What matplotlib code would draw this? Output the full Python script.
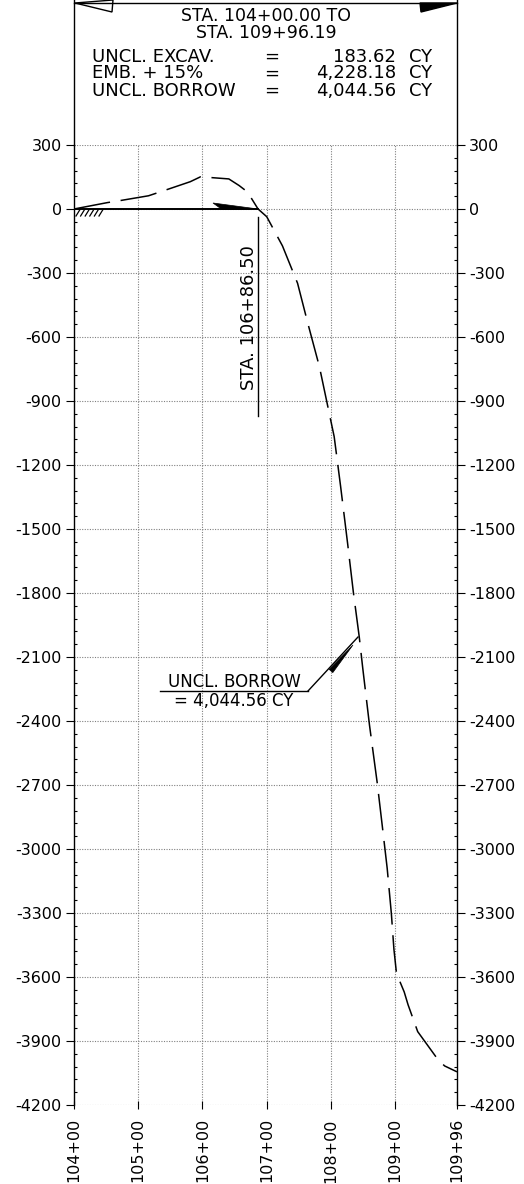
import matplotlib
matplotlib.use("Agg")
import matplotlib.pyplot as plt
from matplotlib.lines import Line2D
from matplotlib.patches import Polygon

plt.rcParams['font.family'] = ['DejaVu Sans']

# ---------------- data ----------------
stations = [104.00, 104.52, 104.67, 105.16, 105.34, 105.81, 105.97, 106.41, 106.57,
            106.70, 106.865, 107.00, 107.245, 107.48, 107.64, 107.82, 108.05, 108.15,
            108.26, 108.35, 108.44, 108.495, 108.60, 108.72, 108.80, 108.875, 108.94,
            108.98, 109.02, 109.14, 109.20, 109.35, 109.48, 109.67, 109.77, 109.9619]
mass_cy = [0, 30, 37, 62, 80, 128, 151, 141, 110,
           80, 0, -36, -173, -348, -536, -739, -1067, -1300,
           -1570, -1800, -2005, -2153, -2420, -2690, -2895, -3090, -3302,
           -3470, -3583, -3670, -3730, -3856, -3910, -3989, -4017, -4044.56]

x_ticks = [104.0, 105.0, 106.0, 107.0, 108.0, 109.0, 109.9619]
x_labels = ["104+00", "105+00", "106+00", "107+00", "108+00", "109+00", "109+96"]
y_ticks = list(range(-4200, 301, 300))
y_labels = [str(v) for v in y_ticks]

balance_sta = 106.865
balance_label = "STA. 106+86.50"
header_lines = ["STA. 104+00.00 TO", "STA. 109+96.19"]
table_names = ["UNCL. EXCAV.", "EMB. + 15%", "UNCL. BORROW"]
table_values = ["183.62", "4,228.18", "4,044.56"]
borrow_text = ["UNCL. BORROW", "= 4,044.56 CY"]

# ---------------- figure ----------------
W, H = 524, 1184
fig = plt.figure(figsize=(W / 100, H / 100), dpi=100)
fig.patch.set_facecolor('white')

L, R, T, B = 74, 457, 145, 1105
ax = fig.add_axes([L / W, 1 - B / H, (R - L) / W, (B - T) / H])
ax.set_xlim(104.0, 109.9619)
ax.set_ylim(-4200, 300)


def P(xp, yp):
    """pixel position (reference image) -> data coords, for annotations"""
    return (104.0 + (xp - L) / (R - L) * (109.9619 - 104.0),
            300 - (yp - T) / (B - T) * 4500)


def F(xp, yp):
    return xp / W, 1 - yp / H


# grid
grid_kw = dict(color='#808080', lw=0.8, linestyle=(0, (1, 1.3)), zorder=0)
for yv in y_ticks:
    ax.axhline(yv, **grid_kw)
for xv in x_ticks[1:-1]:
    ax.axvline(xv, **grid_kw)

# spines
ax.spines['top'].set_visible(False)
ax.spines['bottom'].set_visible(False)
for s in ('left', 'right'):
    ax.spines[s].set_color('black')
    ax.spines[s].set_linewidth(1.0)

# ticks
ax.set_yticks(y_ticks)
ax.set_yticklabels(y_labels)
ax.set_yticks(list(range(-4200, 301, 60)), minor=True)
ax.tick_params(axis='y', which='major', direction='out', length=5.8, width=0.8,
               left=True, right=True, labelleft=True, labelright=True,
               labelsize=11.5, pad=3)
ax.tick_params(axis='y', which='minor', direction='in', length=2.5, width=0.8,
               left=True, right=True)
ax.set_xticks(x_ticks)
ax.set_xticklabels(x_labels, rotation=90, va='top')
ax.tick_params(axis='x', which='major', direction='inout', length=6, width=0.8,
               labelsize=11.5, pad=6.5)

# mass curve
ax.plot(stations, mass_cy, color='black', lw=1.1,
        linestyle=(0, (24, 7)), solid_capstyle='butt', zorder=3)

# balance line and arrow on zero line
ax.plot([stations[0], balance_sta], [0, 0], color='black', lw=1.4, zorder=3)
ax.add_patch(Polygon([P(213, 203), P(222, 209.5), (balance_sta, 0)], closed=True,
                     facecolor='black', edgecolor='black', lw=0.5, zorder=4))

# ground hatch at origin
for i in range(6):
    xt = 80 + 4.6 * i
    (x1, y1), (x2, y2) = P(xt, 209.5), P(xt - 4, 216)
    ax.plot([x1, x2], [y1, y2], color='black', lw=0.9, zorder=3)

# balance station vertical line + label
(_, yt), (_, yb) = P(0, 217), P(0, 416)
ax.plot([balance_sta, balance_sta], [yt, yb], color='black', lw=1.0, zorder=3)
lx, ly = P(249, 318)
ax.text(lx, ly, balance_label, rotation=90, ha='center', va='center', fontsize=13)

# borrow annotation
(hx1, hy), (hx2, _) = P(160, 691), P(308, 691)
ax.plot([hx1, hx2], [hy, hy], color='black', lw=1.0, zorder=3)
tx, ty = P(358, 637)
ax.plot([hx2, tx], [hy, ty], color='black', lw=1.0, zorder=3)
ax.add_patch(Polygon([P(332.8, 672.6), P(329.2, 669.4), P(353, 645)], closed=True,
                     facecolor='black', edgecolor='black', lw=0.5, zorder=4))
bx, by1 = P(234, 682)
_, by2 = P(234, 701)
ax.text(bx, by1, borrow_text[0], ha='center', va='center', fontsize=12)
ax.text(bx, by2, borrow_text[1], ha='center', va='center', fontsize=12)

# ---------------- header box ----------------
fig.add_artist(Line2D([F(L, 0)[0], F(L, 0)[0]], [F(0, 0)[1], F(0, T)[1]],
                      color='black', lw=1.0))
fig.add_artist(Line2D([F(R, 0)[0], F(R, 0)[0]], [F(0, 0)[1], F(0, T)[1]],
                      color='black', lw=1.0))
fig.add_artist(Line2D([F(L, 3)[0], F(R, 3)[0]], [F(L, 3)[1], F(R, 3)[1]],
                      color='black', lw=1.0))
fig.add_artist(Polygon([F(L + 1, 3), F(113, 0), F(112, 12)], closed=True,
                       facecolor='white', edgecolor='black', lw=1.0,
                       transform=fig.transFigure))
fig.add_artist(Polygon([F(R, 3), F(420, 3), F(421, 12)], closed=True,
                       facecolor='black', edgecolor='black', lw=1.0,
                       transform=fig.transFigure))

for txt, yp in zip(header_lines, [16.0, 33.0]):
    fig.text(*F(266, yp), txt, ha='center', va='center', fontsize=12.5)
for name, val, yp in zip(table_names, table_values, [56.5, 73.5, 90.5]):
    fig.text(*F(92, yp), name, ha='left', va='center', fontsize=13)
    fig.text(*F(272, yp), "=", ha='center', va='center', fontsize=13)
    fig.text(*F(396, yp), val, ha='right', va='center', fontsize=13)
    fig.text(*F(409, yp), "CY", ha='left', va='center', fontsize=13)

fig.savefig("out.png", dpi=100, facecolor='white')
